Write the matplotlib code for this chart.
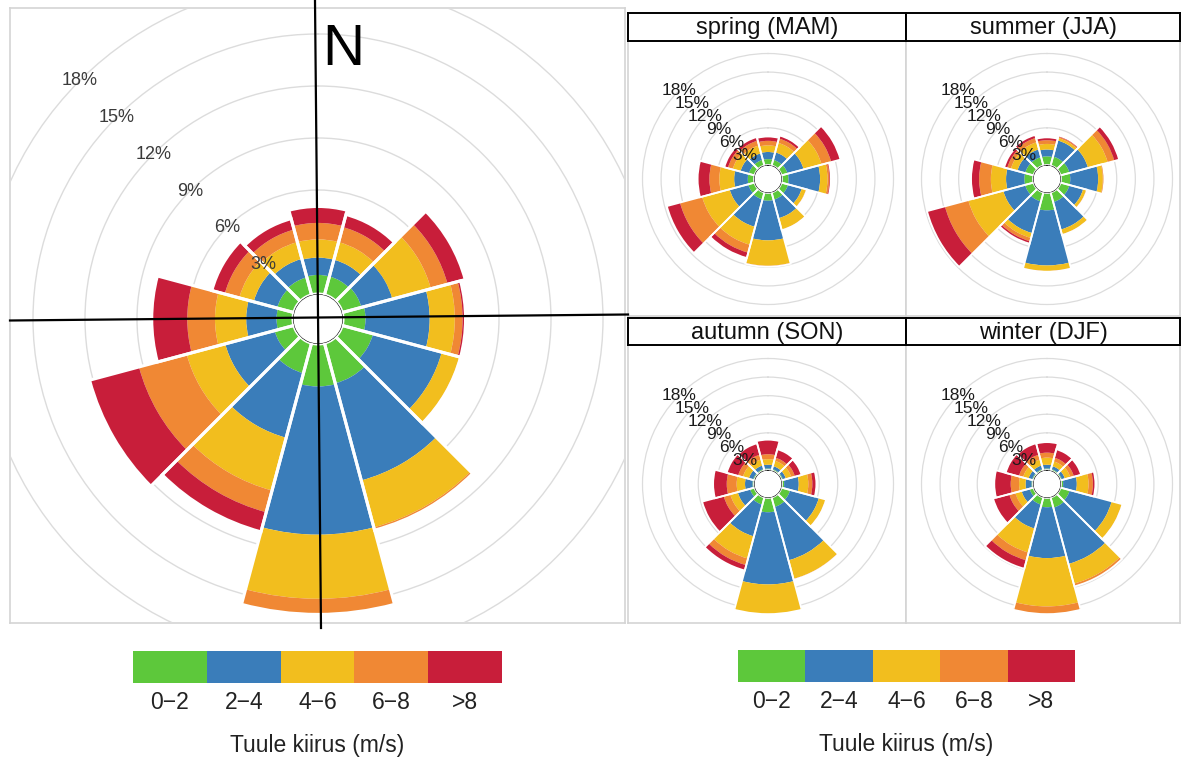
import numpy as np
import matplotlib
matplotlib.use("Agg")
import matplotlib.pyplot as plt
from matplotlib.lines import Line2D

# ---------------- data ----------------
directions = [0, 30, 60, 90, 120, 150, 180, 210, 240, 270, 300, 330]
speed_labels = ["0\u22122", "2\u22124", "4\u22126", "6\u22128", ">8"]
colors = ["#5DC83B", "#3A7DBA", "#F2BE1E", "#F08834", "#C81E3A"]
ring_values = [3, 6, 9, 12, 15, 18]
legend_title = "Tuule kiirus (m/s)"

# frequency (%) per speed bin, per direction
main_0_2 = [1.1, 1.1, 1.15, 1.3, 1.85, 2.4, 2.45, 1.8, 1.15, 0.95, 1.0, 1.05]
main_2_4 = [1.0, 1.0, 1.85, 3.7, 4.1, 5.8, 8.55, 3.85, 2.95, 1.75, 1.4, 1.1]
main_4_6 = [1.05, 1.05, 2.3, 1.45, 1.05, 2.8, 3.7, 3.15, 2.3, 1.8, 0.86, 1.0]
main_6_8 = [0.95, 0.9, 1.0, 0.45, 0.05, 0.15, 0.85, 1.3, 2.85, 1.6, 0.87, 0.75]
main_gt8 = [0.95, 0.75, 1.05, 0.17, 0.02, 0.02, 0.05, 1.17, 2.95, 2.05, 0.77, 0.65]

spring_0_2 = [0.95, 0.95, 1.0, 1.05, 1.1, 1.2, 1.25, 1.15, 1.05, 1.0, 0.95, 0.95]
spring_2_4 = [1.15, 1.25, 2.7, 5.1, 2.3, 3.1, 6.4, 4.6, 3.1, 2.2, 1.4, 1.1]
spring_4_6 = [1.07, 1.6, 3.0, 1.2, 0.7, 1.9, 4.1, 3.0, 4.6, 2.4, 1.3, 1.3]
spring_6_8 = [0.73, 0.7, 1.6, 0.3, 0.1, 0.05, 0.1, 1.3, 3.7, 1.6, 0.8, 0.8]
spring_gt8 = [0.7, 0.5, 1.56, 0.25, 0.05, 0.05, 0.05, 0.9, 2.2, 1.9, 0.6, 0.6]

summer_0_2 = [1.4, 1.5, 1.5, 1.5, 1.5, 1.6, 2.8, 1.5, 1.4, 1.4, 1.4, 1.4]
summer_2_4 = [1.1, 2.7, 3.1, 4.5, 2.3, 4.6, 8.9, 5.3, 3.65, 2.95, 1.3, 1.3]
summer_4_6 = [0.9, 0.4, 3.3, 0.75, 0.5, 0.8, 0.9, 0.8, 5.85, 2.45, 1.1, 1.2]
summer_6_8 = [0.6, 0.2, 1.1, 0.2, 0.1, 0.05, 0.05, 0.55, 3.9, 1.9, 0.6, 0.7]
summer_gt8 = [0.46, 0.2, 0.8, 0.05, 0.05, 0.05, 0.05, 0.4, 3.0, 1.3, 0.5, 0.5]

autumn_0_2 = [0.25, 0.25, 0.25, 0.35, 1.45, 1.6, 2.3, 1.2, 0.75, 0.25, 0.25, 0.25]
autumn_2_4 = [0.6, 0.5, 0.5, 2.35, 4.8, 8.9, 11.65, 5.3, 2.05, 1.2, 0.7, 0.6]
autumn_4_6 = [0.9, 0.9, 0.9, 1.55, 1.1, 3.1, 4.9, 3.7, 1.25, 1.35, 1.0, 1.0]
autumn_6_8 = [0.8, 0.5, 0.6, 0.65, 0.05, 0.1, 0.2, 1.1, 1.1, 1.6, 0.8, 0.8]
autumn_gt8 = [2.35, 1.4, 1.1, 0.65, 0.05, 0.05, 0.05, 0.9, 3.6, 2.2, 1.9, 1.9]

winter_0_2 = [0.25, 0.25, 0.25, 0.35, 1.55, 1.7, 1.5, 1.2, 0.65, 0.25, 0.25, 0.25]
winter_2_4 = [0.6, 0.5, 0.5, 2.2, 7.0, 9.4, 8.2, 4.0, 1.35, 0.95, 0.6, 0.6]
winter_4_6 = [1.15, 0.8, 0.9, 1.9, 1.7, 3.3, 7.8, 4.0, 1.05, 1.05, 0.9, 1.0]
winter_6_8 = [0.8, 0.6, 0.6, 0.7, 0.05, 0.4, 1.3, 1.3, 1.0, 1.35, 0.7, 0.8]
winter_gt8 = [1.7, 1.4, 1.2, 0.4, 0.05, 0.05, 0.05, 1.4, 2.7, 2.65, 2.2, 1.9]

season_titles = ["spring (MAM)", "summer (JJA)", "autumn (SON)", "winter (DJF)"]

# ---------------- layout helpers ----------------
W, H = 1181, 758
fig = plt.figure(figsize=(W / 100, H / 100), dpi=100)
FONT = ["Liberation Sans", "DejaVu Sans"]


def fbox(x0, y0, x1, y1):
    return [x0 / W, 1 - y1 / H, (x1 - x0) / W, (y1 - y0) / H]


def frame_axes(x0, y0, x1, y1, edge="#d4d4d4", lw=1.2, z=0):
    a = fig.add_axes(fbox(x0, y0, x1, y1))
    a.set_xticks([]); a.set_yticks([])
    for s in a.spines.values():
        s.set_color(edge); s.set_linewidth(lw)
    a.set_zorder(z)
    return a


def rose(cx, cy, r0, r18, rmax, freqs, clip_patch, label_size, label_color, gap_lw, ring_lw):
    o = 18.0 * r0 / (r18 - r0)
    R = r0 * (rmax + o) / o
    ax = fig.add_axes(fbox(cx - R, cy - R, cx + R, cy + R), projection="polar")
    ax.set_zorder(2)
    ax.set_theta_zero_location("N")
    ax.set_theta_direction(-1)
    ax.set_rorigin(-o)
    ax.set_ylim(0, rmax)
    ax.patch.set_alpha(0)
    for s in ax.spines.values():
        s.set_visible(False)
    ax.set_xticks([])
    ax.set_rgrids(ring_values, labels=[""] * len(ring_values))
    ax.yaxis.grid(True, color="#dcdcdc", lw=ring_lw)
    ax.xaxis.grid(False)
    ax.tick_params(axis="y", length=0)
    ax.yaxis.set_clip_path(clip_patch)
    theta = np.deg2rad(directions)
    width = np.deg2rad(30)
    bottom = np.zeros(len(directions))
    for vals, c in zip(freqs, colors):
        vals = np.asarray(vals)
        ax.bar(theta, vals, width=width, bottom=bottom, color=c,
               edgecolor="none", zorder=2, align="center")
        bottom = bottom + vals
    ax.bar(theta, bottom, width=width, bottom=0, facecolor="none",
           edgecolor="white", lw=gap_lw, zorder=3)
    for rv in ring_values:
        ax.text(np.deg2rad(315), rv, f"{rv}%", ha="center", va="center",
                fontsize=label_size, color=label_color, family=FONT, zorder=6)
    return ax


# ---------------- main rose ----------------
main_box = frame_axes(10, 8, 625, 623)
rose(318, 319, 25, 337, 18.6,
     [main_0_2, main_2_4, main_4_6, main_6_8, main_gt8],
     main_box.patch, 13, "#3a3a3a", 2.2, 1.0)

# compass cross and N
fig.add_artist(Line2D([315 / W, 321 / W], [1 - 1 / H, 1 - 628 / H],
                      color="black", lw=1.6, zorder=10))
fig.add_artist(Line2D([10 / W, 628 / W], [1 - 320.5 / H, 1 - 314.5 / H],
                      color="black", lw=1.6, zorder=10))
fig.text(343 / W, 1 - 50 / H, "N", ha="center", va="center", fontsize=42,
         family=FONT, color="black", zorder=10)

# ---------------- seasonal roses ----------------
season_data = [
    [spring_0_2, spring_2_4, spring_4_6, spring_6_8, spring_gt8],
    [summer_0_2, summer_2_4, summer_4_6, summer_6_8, summer_gt8],
    [autumn_0_2, autumn_2_4, autumn_4_6, autumn_6_8, autumn_gt8],
    [winter_0_2, winter_2_4, winter_4_6, winter_6_8, winter_gt8],
]
panels = [
    # strip, panel, centre
    ((628, 13, 906, 41), (628, 41, 906, 316), (768, 179)),
    ((906, 13, 1180, 41), (906, 41, 1180, 316), (1047, 179)),
    ((628, 318, 906, 345), (628, 345, 906, 623), (768, 484)),
    ((906, 318, 1180, 345), (906, 345, 1180, 623), (1047, 484)),
]
for title, freqs, (strip, panel, (cx, cy)) in zip(season_titles, season_data, panels):
    pax = frame_axes(*panel, edge="#d4d4d4", lw=1.2)
    sax = frame_axes(*strip, edge="black", lw=1.4, z=3)
    sax.text(0.5, 0.45, title, ha="center", va="center", fontsize=17,
             family=FONT, color="#111111", transform=sax.transAxes)
    rose(cx, cy, 14, 125.5, 18.6, freqs, pax.patch, 12.5, "#1a1a1a", 1.3, 0.9)

# ---------------- legends ----------------
def legend(x0, y0, x1, y1):
    lax = fig.add_axes(fbox(x0, y0, x1, y1))
    lax.bar(np.arange(len(speed_labels)), [1] * len(speed_labels), width=1.0,
            color=colors, edgecolor="none")
    lax.set_xlim(-0.5, len(speed_labels) - 0.5)
    lax.set_ylim(0, 1)
    lax.set_yticks([])
    lax.set_xticks(np.arange(len(speed_labels)), speed_labels)
    lax.tick_params(axis="x", length=0, pad=6, labelsize=16.5, labelcolor="#222222")
    for lab in lax.get_xticklabels():
        lab.set_family(FONT)
    for s in lax.spines.values():
        s.set_visible(False)
    lax.set_xlabel(legend_title, fontsize=16.5, family=FONT, color="#222222",
                   labelpad=14)
    return lax


legend(133, 651, 502, 683)
legend(738, 650, 1075, 682)

fig.savefig("out.png", dpi=100, facecolor="white")
